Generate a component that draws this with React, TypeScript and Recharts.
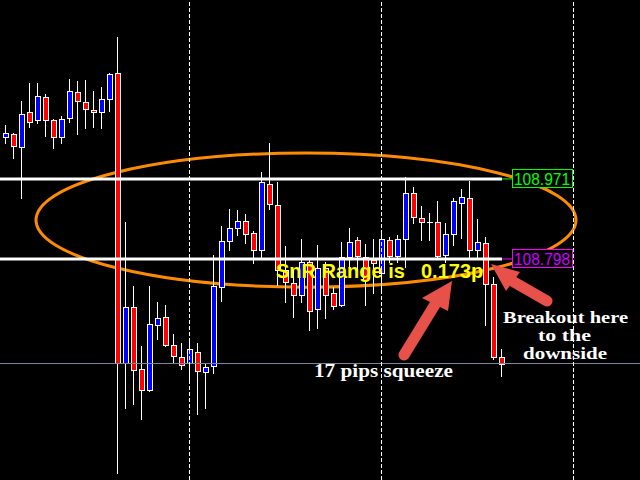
import React from "react";
import {
  ComposedChart,
  Bar,
  XAxis,
  YAxis,
  ReferenceLine,
  ReferenceArea,
} from "recharts";

// M15-ish candles (price units)
const opens = [
  109.062, 109.068, 109.04, 109.116, 109.099, 109.148, 109.099, 109.062, 109.103, 109.159,
  109.138, 109.12, 109.116, 109.144, 109.2, 108.573, 108.694, 108.56, 108.515, 108.655,
  108.673, 108.612, 108.586, 108.573, 108.597, 108.554, 108.567, 108.737, 108.837, 108.865,
  108.88, 108.854, 108.817, 108.96, 108.915, 108.774, 108.746, 108.72, 108.792, 108.69,
  108.779, 108.724, 108.699, 108.802, 108.839, 108.802, 108.796, 108.768, 108.839, 108.805,
  108.841, 108.941, 108.887, 108.878, 108.878, 108.807, 108.852, 108.919, 108.93, 108.817,
  108.833, 108.744, 108.586,
];
const highs = [
  109.088, 109.07, 109.14, 109.179, 109.179, 109.155, 109.101, 109.107, 109.187, 109.183,
  109.185, 109.161, 109.17, 109.2, 109.278, 108.878, 108.74, 108.61, 108.74, 108.705,
  108.699, 108.636, 108.616, 108.618, 108.616, 108.573, 108.807, 108.869, 108.906, 108.904,
  108.895, 108.859, 108.986, 109.049, 108.965, 108.826, 108.774, 108.841, 108.796, 108.828,
  108.792, 108.737, 108.835, 108.865, 108.846, 108.83, 108.841, 108.854, 108.846, 108.85,
  108.975, 108.954, 108.913, 108.897, 108.923, 108.876, 108.93, 108.949, 108.967, 108.884,
  108.846, 108.759, 108.603,
];
const lows = [
  109.049, 109.016, 108.93, 109.083, 109.092, 109.064, 109.038, 109.049, 109.094, 109.068,
  109.081, 109.083, 109.081, 109.118, 108.335, 108.476, 108.484, 108.452, 108.513, 108.625,
  108.61, 108.575, 108.56, 108.539, 108.463, 108.476, 108.551, 108.707, 108.817, 108.85,
  108.833, 108.789, 108.802, 108.906, 108.742, 108.705, 108.673, 108.705, 108.644, 108.649,
  108.67, 108.69, 108.696, 108.781, 108.774, 108.699, 108.724, 108.731, 108.792, 108.792,
  108.781, 108.876, 108.839, 108.839, 108.802, 108.792, 108.828, 108.843, 108.802, 108.802,
  108.655, 108.582, 108.545,
];
const closes = [
  109.07, 109.042, 109.112, 109.094, 109.15, 109.099, 109.062, 109.101, 109.161, 109.14,
  109.122, 109.116, 109.144, 109.198, 108.573, 108.694, 108.558, 108.515, 108.657, 108.67,
  108.612, 108.588, 108.569, 108.603, 108.556, 108.564, 108.74, 108.837, 108.865, 108.88,
  108.852, 108.817, 108.965, 108.917, 108.774, 108.748, 108.72, 108.792, 108.686, 108.779,
  108.72, 108.696, 108.802, 108.835, 108.805, 108.753, 108.789, 108.841, 108.805, 108.841,
  108.941, 108.889, 108.878, 108.878, 108.805, 108.852, 108.923, 108.932, 108.817, 108.835,
  108.744, 108.586, 108.571,
];

const RESISTANCE = 108.971;
const SUPPORT = 108.798;
const BID = 108.573;
const separators = [23, 47, 71];

// visible window (bar index / price)
const X_DOMAIN: [number, number] = [-0.66, 79.34];
const Y_DOMAIN: [number, number] = [108.32, 109.358];
const LINE_END = 62.09;
const TAG_START = 63.34;

const BULL = "#0000ff";
const BEAR = "#ff0000";
const ARROW = "#e8504a";

const data = opens.map((o, i) => ({
  i,
  open: o,
  high: highs[i],
  low: lows[i],
  close: closes[i],
  range: [lows[i], highs[i]],
}));

function Candle(props: any) {
  const { x, y, width, height, payload } = props;
  if (!payload || height == null) return null;
  const { open, close, high, low } = payload;
  const top = Math.min(y, y + height);
  const span = Math.abs(height);
  const k = high > low ? span / (high - low) : 0;
  const left = Math.floor(x + width / 2) - 2;
  const bt = Math.round(top + (high - Math.max(open, close)) * k);
  const bb = Math.round(top + (high - Math.min(open, close)) * k);
  const wx = left + 2.5;
  return (
    <g>
      <line
        x1={wx}
        x2={wx}
        y1={Math.round(top)}
        y2={Math.round(top + span) + 1}
        stroke="#ffffff"
        strokeWidth={1}
      />
      {bb - bt < 1 ? (
        <line x1={left} x2={left + 6} y1={bt + 0.5} y2={bt + 0.5} stroke="#ffffff" />
      ) : (
        <rect
          x={left + 0.5}
          y={bt + 0.5}
          width={5}
          height={bb - bt}
          fill={close >= open ? BULL : BEAR}
          stroke="#ffffff"
          strokeWidth={1}
        />
      )}
    </g>
  );
}

function PriceTag({ viewBox, value, color, text }: any) {
  if (!viewBox) return null;
  const tx = Math.round(viewBox.x + viewBox.width);
  const cy = Math.round(viewBox.y);
  return (
    <g>
      <rect x={tx + 0.5} y={cy - 9.5} width={60} height={18} fill="#000" stroke={color} />
      <text
        x={tx + 2}
        y={cy + 6}
        fill={text}
        fontSize={17}
        fontFamily="Liberation Sans, Arial, sans-serif"
        textLength={56}
        lengthAdjust="spacingAndGlyphs"
      >
        {value.toFixed(3)}
      </text>
    </g>
  );
}

function Ellipse(props: any) {
  const { x, y, width, height } = props;
  return (
    <ellipse
      cx={x + width / 2}
      cy={y + height / 2}
      rx={width / 2}
      ry={height / 2}
      fill="none"
      stroke="#ff8c00"
      strokeWidth={3}
    />
  );
}

function Arrow({ tail, tip, c1, c2 }: any) {
  const bx = (c1[0] + c2[0]) / 2;
  const by = (c1[1] + c2[1]) / 2;
  return (
    <g>
      <line x1={tail[0]} y1={tail[1]} x2={bx} y2={by} stroke={ARROW} strokeWidth={11} strokeLinecap="round" />
      <polygon points={`${tip.join(",")} ${c1.join(",")} ${c2.join(",")}`} fill={ARROW} />
    </g>
  );
}

export default function App() {
  const serif = "Liberation Serif, Times New Roman, serif";
  const sans = "Liberation Sans, Arial, sans-serif";
  return (
    <div style={{ position: "absolute", left: 0, top: 0, width: 640, height: 480, background: "#000" }}>
      <ComposedChart width={640} height={480} data={data} margin={{ top: 0, right: 0, bottom: 0, left: 0 }}>
        <XAxis type="number" dataKey="i" domain={X_DOMAIN} allowDataOverflow hide />
        <YAxis type="number" domain={Y_DOMAIN} allowDataOverflow hide />
        <ReferenceLine y={BID} stroke="#778899" strokeWidth={1} shapeRendering="crispEdges" />
        {separators.map((s) => (
          <ReferenceLine
            key={s}
            x={s}
            stroke="#ffffff"
            strokeDasharray="4 2"
            shapeRendering="crispEdges"
          />
        ))}
        <Bar dataKey="range" barSize={6} isAnimationActive={false} shape={(p: any) => <Candle {...p} />} />
        <ReferenceLine
          segment={[{ x: X_DOMAIN[0], y: RESISTANCE }, { x: LINE_END, y: RESISTANCE }]}
          stroke="#ffffff"
          strokeWidth={3}
          ifOverflow="visible"
        />
        <ReferenceLine
          segment={[{ x: X_DOMAIN[0], y: SUPPORT }, { x: LINE_END, y: SUPPORT }]}
          stroke="#ffffff"
          strokeWidth={3}
          ifOverflow="visible"
        />
        <ReferenceArea
          x1={3.84}
          x2={71.34}
          y1={108.737}
          y2={109.027}
          ifOverflow="visible"
          shape={(p: any) => <Ellipse {...p} />}
        />
        <ReferenceLine
          segment={[{ x: LINE_END, y: RESISTANCE }, { x: TAG_START, y: RESISTANCE }]}
          stroke="#00ff00"
          ifOverflow="visible"
          label={(p: any) => <PriceTag viewBox={p.viewBox} value={RESISTANCE} color="#00ff00" text="#00ff00" />}
        />
        <ReferenceLine
          segment={[{ x: LINE_END, y: SUPPORT }, { x: TAG_START, y: SUPPORT }]}
          stroke="#ff00ff"
          ifOverflow="visible"
          label={(p: any) => <PriceTag viewBox={p.viewBox} value={SUPPORT} color="#ff00ff" text="#cc00ff" />}
        />
      </ComposedChart>
      <svg width={640} height={480} style={{ position: "absolute", left: 0, top: 0, pointerEvents: "none" }}>
        <text x={276} y={278} fill="#ffff00" fontWeight="bold" fontSize={20} fontFamily={sans}>
          SnR Range is
        </text>
        <text x={421} y={278} fill="#ffff00" fontWeight="bold" fontSize={20} fontFamily={sans}>
          0.173p
        </text>
        <Arrow tail={[404, 355]} tip={[452, 281]} c1={[422, 298]} c2={[448, 311]} />
        <Arrow tail={[547, 301]} tip={[491, 264]} c1={[506, 291]} c2={[520, 272]} />
        <text
          x={314}
          y={377}
          fill="#ffffff"
          fontWeight="bold"
          fontSize={18}
          fontFamily={serif}
          textLength={139}
          lengthAdjust="spacingAndGlyphs"
        >
          17 pips squeeze
        </text>
        <g fill="#ffffff" fontWeight="bold" fontSize={17} fontFamily={serif}>
          <text x={503} y={323} textLength={125} lengthAdjust="spacingAndGlyphs">
            Breakout here
          </text>
          <text x={538} y={341} textLength={53} lengthAdjust="spacingAndGlyphs">
            to the
          </text>
          <text x={523} y={359} textLength={84} lengthAdjust="spacingAndGlyphs">
            downside
          </text>
        </g>
      </svg>
    </div>
  );
}
